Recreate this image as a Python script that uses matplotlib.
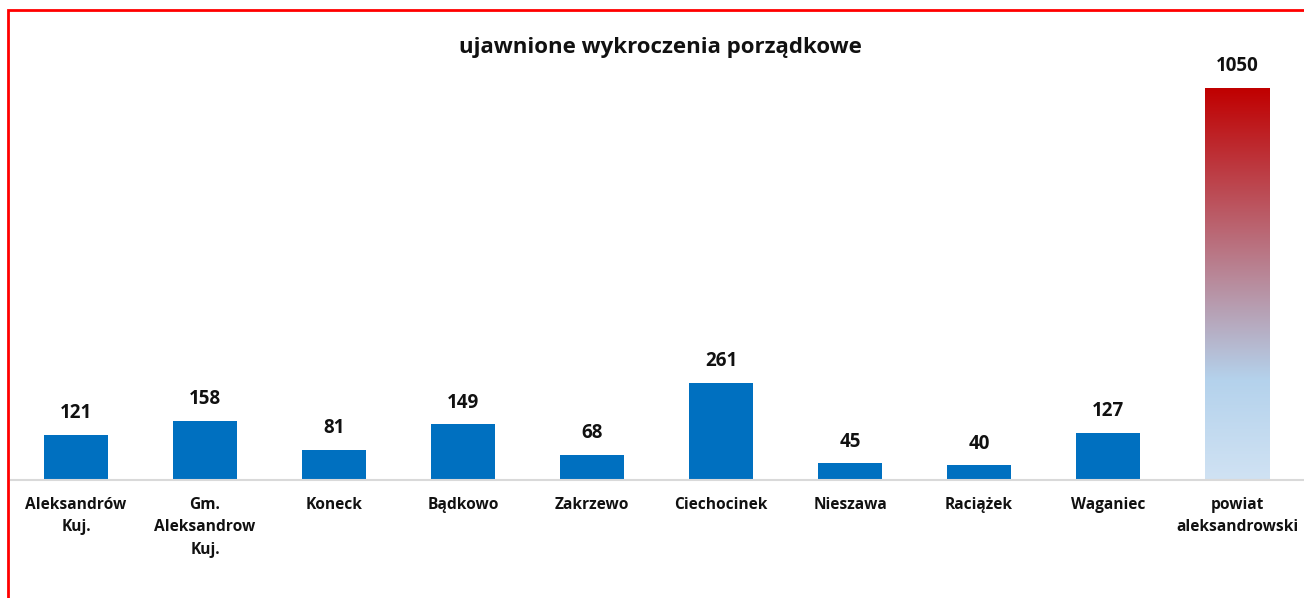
import numpy as np
import matplotlib.pyplot as plt
from matplotlib.colors import LinearSegmentedColormap
from matplotlib.patches import Rectangle

plt.rcParams['font.family'] = ['Open Sans', 'DejaVu Sans']

# dane
categories = ['Aleksandrów\nKuj.', 'Gm.\nAleksandrow\nKuj.', 'Koneck', 'Bądkowo', 'Zakrzewo',
              'Ciechocinek', 'Nieszawa', 'Raciążek', 'Waganiec', 'powiat\naleksandrowski']
values = [121, 158, 81, 149, 68, 261, 45, 40, 127, 1050]

W, H = 1304, 598
fig = plt.figure(figsize=(W / 100, H / 100), dpi=100)
ax = fig.add_axes([11 / W, 118 / H, 1 - 11 / W, 450 / H])

px_per_unit = 392 / 1050
x = np.arange(len(values))
ax.set_xlim((11 - 76) / 129, (1304 - 76) / 129)
ax.set_ylim(0, 450 / px_per_unit)

bars = ax.bar(x[:-1], values[:-1], width=0.5, color='#0070C0', zorder=2)

# gradientowy slupek powiatu
cmap = LinearSegmentedColormap.from_list('grad', [(0, '#D0E2F3'), (0.255, '#B4D2EC'), (1, '#C00000')])
grad = np.linspace(0, 1, 256).reshape(-1, 1)
last = x[-1]
ax.imshow(grad, cmap=cmap, aspect='auto', origin='lower',
          extent=(last - 0.25, last + 0.25, 0, values[-1]), zorder=2)

for xi, v in zip(x, values):
    ax.annotate(str(v), (xi, v), xytext=(0, 15.5), textcoords='offset points',
                ha='center', va='center', fontsize=13.5, fontweight='bold', color='#111111')

ax.set_xticks(x)
ax.set_xticklabels(categories, fontsize=11.2, fontweight='bold', color='#111111', linespacing=1.55)
ax.tick_params(axis='x', length=0, pad=12)
ax.set_yticks([])
for s in ['top', 'right', 'left']:
    ax.spines[s].set_visible(False)
ax.spines['bottom'].set_color('#D9D9D9')
ax.spines['bottom'].set_linewidth(1.5)

fig.text(660 / W, 1 - 48 / H, 'ujawnione wykroczenia porządkowe', ha='center', va='center',
         fontsize=16, fontweight='bold', color='#111111')

# czerwona ramka
fig.patches.append(Rectangle((7.5 / W, -0.1), 1.2, 1 - 9.5 / H + 0.1, transform=fig.transFigure,
                             fill=False, edgecolor='red', linewidth=2))

fig.savefig('out.png', dpi=100)
